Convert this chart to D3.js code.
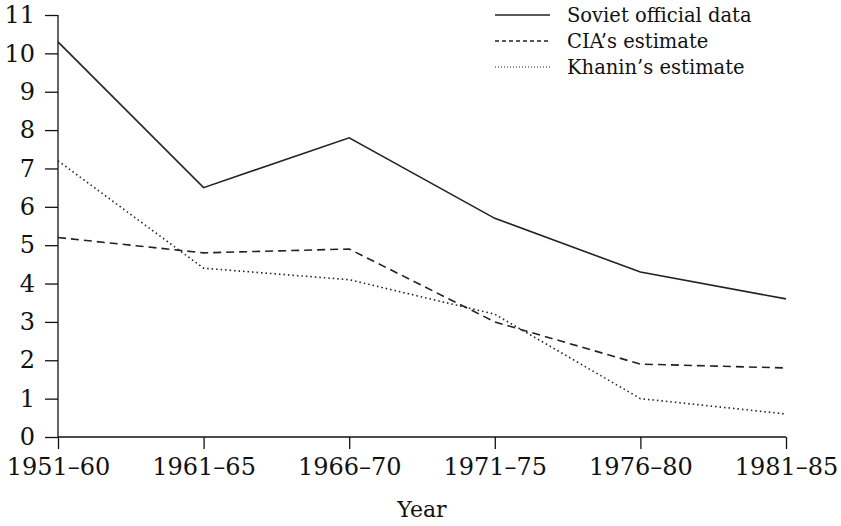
<!DOCTYPE html>
<html>
<head>
<meta charset="utf-8">
<script src="https://cdn.jsdelivr.net/npm/d3@7"></script>
<style>
  body { margin: 0; background: #fff; }
  svg text { font-family: "DejaVu Serif", "Liberation Serif", serif; fill: #111; }
</style>
</head>
<body>
<svg id="chart" width="841" height="526"></svg>
<script>
var periods = ["1951–60", "1961–65", "1966–70", "1971–75", "1976–80", "1981–85"];
var soviet = [10.3, 6.5, 7.8, 5.7, 4.3, 3.6];
var cia = [5.2, 4.8, 4.9, 3.0, 1.9, 1.8];
var khanin = [7.2, 4.4, 4.1, 3.2, 1.0, 0.6];
var yTicks = [0, 1, 2, 3, 4, 5, 6, 7, 8, 9, 10, 11];

var series = [
  { name: "Soviet official data", values: soviet, dash: null },
  { name: "CIA’s estimate", values: cia, dash: "8,5" },
  { name: "Khanin’s estimate", values: khanin, dash: "1.5,3" }
];

var svg = d3.select("#chart");
var margin = { left: 58, right: 55, top: 15, bottom: 89 };
var width = 841 - margin.left - margin.right;
var height = 526 - margin.top - margin.bottom;

var g = svg.append("g").attr("transform", "translate(" + margin.left + "," + margin.top + ")");

var x = d3.scalePoint().domain(periods).range([0, width]);
var y = d3.scaleLinear().domain([0, 11]).range([height, 0]);

var yAxis = g.append("g")
  .call(d3.axisLeft(y).tickValues(yTicks).tickSize(13).tickPadding(10).tickFormat(d3.format("d")));
var xAxis = g.append("g")
  .attr("transform", "translate(0," + height + ")")
  .call(d3.axisBottom(x).tickSize(12).tickPadding(9));

[yAxis, xAxis].forEach(function(a) {
  a.select(".domain").attr("stroke", "#111").attr("stroke-width", 1.3);
  a.selectAll(".tick line").attr("stroke", "#111").attr("stroke-width", 1.3);
  a.selectAll("text").style("font-size", "24px").attr("fill", "#111");
});
// axis paths without outer ticks
yAxis.select(".domain").attr("d", "M0," + height + "V0");
xAxis.select(".domain").attr("d", "M0,0H" + width);

var line = d3.line()
  .x(function(d, i) { return x(periods[i]); })
  .y(function(d) { return y(d); });

series.forEach(function(s) {
  g.append("path")
    .datum(s.values)
    .attr("d", line)
    .attr("fill", "none")
    .attr("stroke", "#222")
    .attr("stroke-width", 1.6)
    .attr("stroke-dasharray", s.dash);
});

g.append("text")
  .attr("x", width / 2)
  .attr("y", height + 80)
  .attr("text-anchor", "middle")
  .style("font-size", "22px")
  .text("Year");

var legend = svg.append("g").attr("transform", "translate(495,15)");
series.forEach(function(s, i) {
  var row = legend.append("g").attr("transform", "translate(0," + i * 26 + ")");
  row.append("line")
    .attr("x1", 0).attr("x2", 55)
    .attr("stroke", "#222")
    .attr("stroke-width", s.dash === "1.5,3" ? 1 : 1.3)
    .attr("stroke-dasharray", s.dash === "1.5,3" ? "1,2" : (s.dash ? "4,3" : null));
  row.append("text")
    .attr("x", 72)
    .attr("y", 7)
    .style("font-size", "19.5px")
    .text(s.name);
});
</script>
</body>
</html>
